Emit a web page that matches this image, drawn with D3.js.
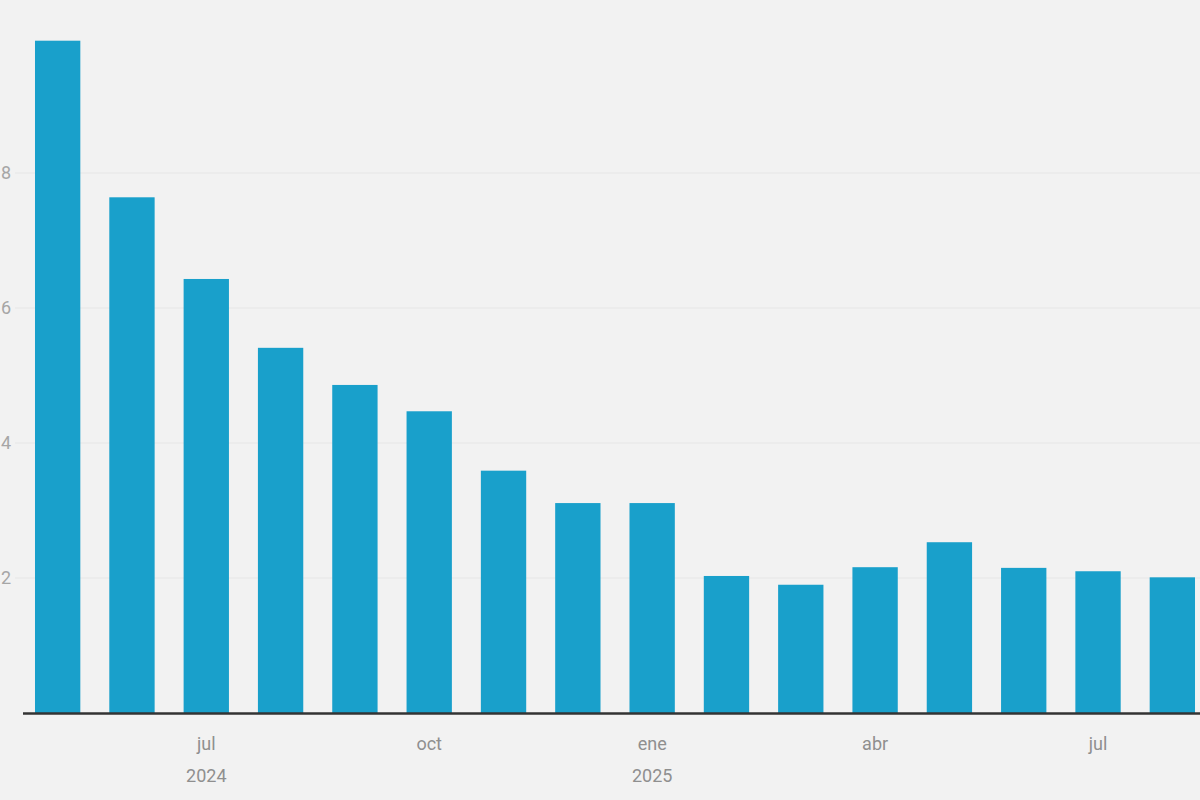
<!DOCTYPE html>
<html><head><meta charset="utf-8">
<script src="https://cdn.jsdelivr.net/npm/d3@7"></script>
<style>
html,body{margin:0;padding:0;background:#f2f2f2;overflow:hidden;}
svg{display:block;}
</style></head>
<body>
<svg id="c" width="1200" height="800"></svg>
<script>
const months = ["may","jun","jul","ago","sep","oct","nov","dic","ene","feb","mar","abr","may","jun","jul","ago"];
const years  = ["2024","2024","2024","2024","2024","2024","2024","2024","2025","2025","2025","2025","2025","2025","2025","2025"];
const values = [9.96, 7.64, 6.43, 5.41, 4.86, 4.47, 3.59, 3.11, 3.11, 2.03, 1.90, 2.16, 2.53, 2.15, 2.10, 2.01];
const yTicks = [2, 4, 6, 8];
const xLabelMonths = ["jul","oct","ene","abr"];

const svg = d3.select("#c");
const keys = months.map((m,i)=>i);
const x = d3.scaleBand().domain(keys).range([20.5, 1209.5]).paddingInner(0.39).paddingOuter(0.195);
const y = d3.scaleLinear().domain([0, 10]).range([713, 38]);

svg.append("rect").attr("width",1200).attr("height",800).attr("fill","#f2f2f2");

// gridlines
svg.append("g").selectAll("line").data(yTicks).join("line")
  .attr("x1", 15).attr("x2", 1200)
  .attr("y1", d=>y(d)).attr("y2", d=>y(d))
  .attr("stroke","#e6e6e6").attr("stroke-width",1);

// y labels
svg.append("g").selectAll("text").data(yTicks).join("text")
  .attr("x", 11).attr("y", d=>y(d)).attr("dy","0.35em")
  .attr("text-anchor","end")
  .attr("font-family","Roboto, 'Noto Sans', sans-serif").attr("font-size",18)
  .attr("fill","#a6a6a6").text(d=>d);

// bars
svg.append("g").selectAll("rect").data(values).join("rect")
  .attr("x",(d,i)=>x(i)).attr("width",x.bandwidth())
  .attr("y",d=>y(d)).attr("height",d=>y(0)-y(d))
  .attr("fill","#19a0cb");

// baseline
svg.append("line").attr("x1",23).attr("x2",1200).attr("y1",y(0)+0.5).attr("y2",y(0)+0.5)
  .attr("stroke","#333").attr("stroke-width",2.5);

// x labels
const lab = svg.append("g").attr("font-family","Roboto, 'Noto Sans', sans-serif").attr("font-size",18).attr("fill","#8f8f8f").attr("text-anchor","middle");
keys.forEach(i=>{
  const m = months[i];
  if(!xLabelMonths.includes(m)) return;
  const cx = x(i)+x.bandwidth()/2;
  lab.append("text").attr("x",cx).attr("y",750).text(m);
  if(m==="ene" || (m==="jul" && years[i]==="2024")){
    lab.append("text").attr("x",cx).attr("y",782).text(years[i]);
  }
});
</script>
</body></html>
